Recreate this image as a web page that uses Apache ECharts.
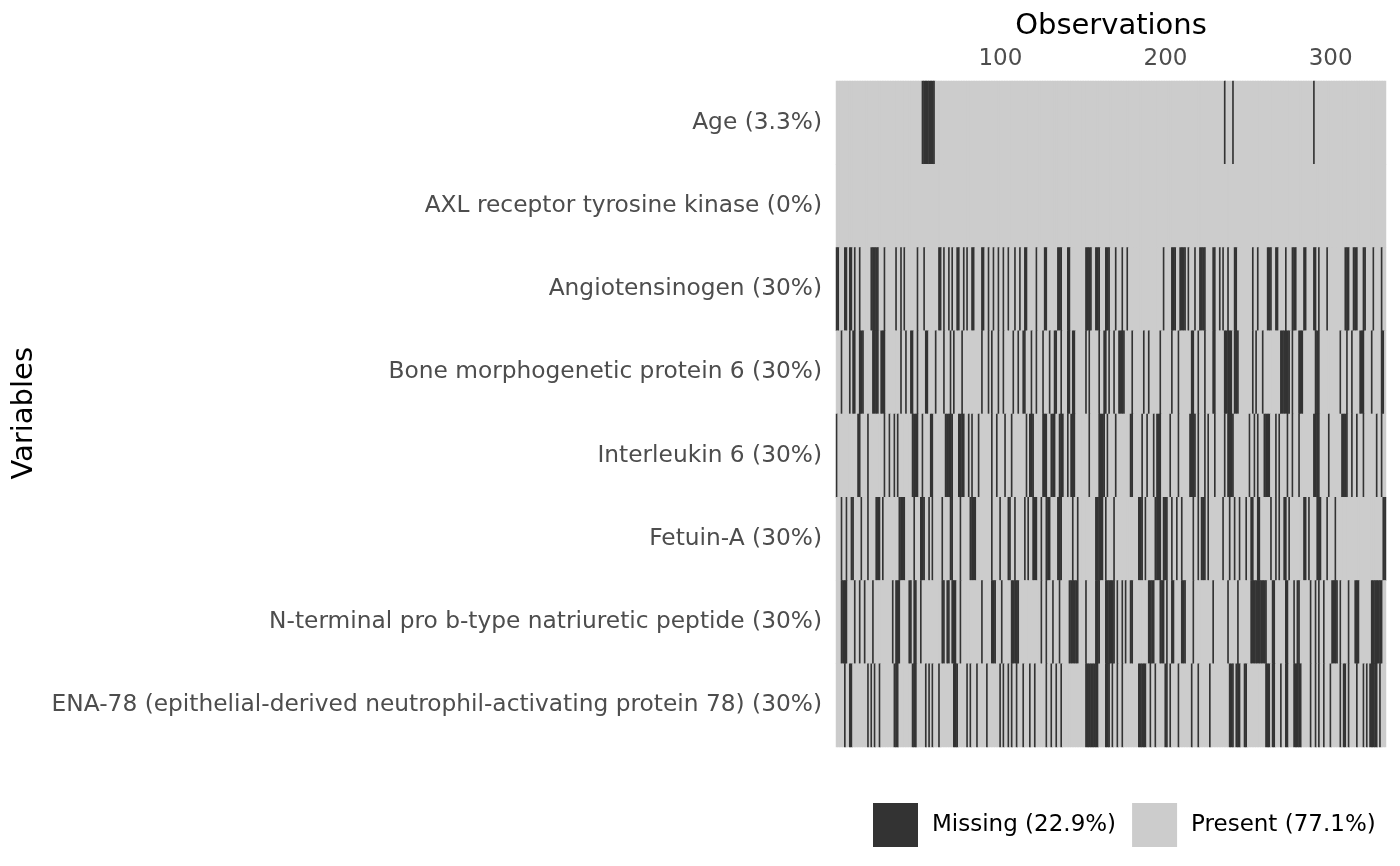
<!DOCTYPE html>
<html>
<head>
<meta charset="utf-8">
<script src="https://cdn.jsdelivr.net/npm/echarts@6/dist/echarts.min.js"></script>
<style>
  html, body { margin: 0; padding: 0; background: #fff; }
  #chart { width: 1400px; height: 866px; }
</style>
</head>
<body>
<div id="chart"></div>
<script>
var nObs = 333;
var variables = [
  'Age (3.3%)',
  'AXL receptor tyrosine kinase (0%)',
  'Angiotensinogen (30%)',
  'Bone morphogenetic protein 6 (30%)',
  'Interleukin 6 (30%)',
  'Fetuin-A (30%)',
  'N-terminal pro b-type natriuretic peptide (30%)',
  'ENA-78 (epithelial-derived neutrophil-activating protein 78) (30%)'
];
var tickObs = [100, 200, 300];

// missing observations per variable, as [first, last] runs (1-based)
var missAge = [[53,60],[236,236],[241,241],[290,290]];
var missAXL = [];
var missAngio = [[1,2],[6,7],[9,10],[12,12],[15,15],[22,26],[30,30],[37,37],[40,40],[42,42],[50,50],[54,54],[63,64],[66,66],[69,69],[71,71],[74,75],[78,78],[80,80],[83,84],[89,90],[93,93],[96,96],[99,99],[102,102],[105,105],[109,109],
  [112,112],[115,116],[122,122],[127,128],[135,137],[141,142],[152,155],[158,160],[164,166],[170,170],[174,174],[177,177],[199,199],[204,206],[209,212],[214,214],[218,218],[221,221],
  [222,224],[229,230],[233,233],[235,235],[238,238],[242,243],[253,253],[256,256],[262,264],[267,268],[273,273],[277,279],[284,285],[290,291],[293,293],[298,298],[309,311],[314,316],[320,321],[326,326],[331,331]];
var missBMP6 = [[4,4],[9,9],[11,12],[15,17],[23,26],[28,30],[40,40],[43,43],[46,47],[50,50],[55,56],[61,61],[66,66],[70,70],[72,72],[77,77],[89,89],[93,93],[95,95],[99,99],[102,102],[108,108],
  [111,111],[114,115],[119,119],[122,122],[126,126],[130,130],[133,134],[137,137],[141,142],[144,145],[152,152],[154,154],[160,160],[163,164],[166,166],[169,169],[172,175],[180,180],[187,187],[190,190],[197,197],[204,204],[208,208],[216,217],[220,220],
  [224,224],[229,230],[236,240],[242,244],[253,253],[255,255],[259,259],[270,275],[277,277],[281,283],[291,293],[306,306],[310,310],[313,313],[318,320],[325,325],[331,332]];
var missIL6 = [[1,1],[14,15],[20,20],[30,30],[33,33],[36,36],[38,38],[47,50],[53,53],[58,59],[67,71],[75,78],[81,81],[83,83],[87,87],[95,95],[98,98],[103,103],[107,107],
  [116,116],[118,120],[126,128],[131,133],[136,138],[141,141],[143,145],[154,154],[160,163],[165,165],[170,170],[179,180],[186,186],[189,189],[193,193],[195,197],[203,203],[208,208],[215,218],[220,220],
  [224,224],[226,226],[230,230],[236,236],[238,241],[251,251],[254,254],[256,256],[260,263],[267,267],[269,269],[274,274],[277,277],[281,281],[290,293],[299,299],[307,310],[313,313],[316,316],[320,320],[328,328],[331,331]];
var missFetuin = [[4,4],[7,7],[10,11],[16,16],[20,20],[25,27],[29,29],[39,42],[48,48],[52,54],[57,57],[59,59],[65,65],[70,71],[76,76],[82,85],[95,95],[100,100],[105,106],[109,109],
  [115,115],[117,117],[120,122],[125,125],[128,130],[135,137],[144,144],[147,147],[158,162],[164,164],[169,169],[184,186],[188,188],[194,197],[199,201],[204,204],[207,207],[210,210],[217,217],[220,220],
  [222,224],[226,226],[235,235],[239,239],[242,242],[245,245],[249,249],[252,253],[256,257],[264,264],[267,267],[269,269],[272,273],[275,275],[284,285],[287,287],[292,294],[298,298],[303,303],[332,333]];
var missNTpro = [[4,7],[12,12],[15,15],[18,18],[23,23],[35,35],[37,39],[45,46],[48,49],[52,52],[65,66],[68,69],[71,73],[76,76],[89,89],[95,97],[101,101],[107,111],
  [125,125],[128,128],[132,132],[136,136],[142,147],[152,152],[158,160],[164,169],[171,171],[174,174],[176,176],[179,180],[190,193],[197,199],[201,201],[204,205],[210,212],[217,217],
  [229,229],[238,238],[244,244],[252,261],[265,266],[273,274],[278,278],[280,281],[288,288],[291,291],[293,293],[296,296],[301,304],[306,306],[311,311],[315,317],[325,331]];
var missENA = [[6,6],[9,10],[20,20],[22,22],[24,24],[27,27],[36,38],[47,49],[55,55],[57,57],[59,59],[63,63],[72,74],[80,80],[82,82],[86,86],[92,92],[100,100],[102,102],[105,105],[107,107],[110,110],
  [114,114],[118,118],[121,121],[128,128],[131,131],[134,134],[137,137],[152,159],[164,166],[168,168],[171,171],[174,174],[184,188],[191,191],[194,194],[200,201],[203,203],[208,208],[216,216],[220,220],
  [227,227],[239,241],[243,245],[248,249],[261,263],[265,266],[270,270],[273,274],[278,282],[288,288],[291,291],[293,293],[296,296],[300,300],[306,306],[308,309],[311,311],[316,316],[320,320],[322,322],[324,328],[330,330]];

var missing = [missAge, missAXL, missAngio, missBMP6, missIL6, missFetuin, missNTpro, missENA];

var obsCats = [];
for (var i = 1; i <= nObs; i++) obsCats.push(String(i));

var data = [];
missing.forEach(function (runs, v) {
  var row = new Array(nObs).fill(0);
  runs.forEach(function (r) {
    for (var k = r[0]; k <= r[1] && k <= nObs; k++) row[k - 1] = 1;
  });
  row.forEach(function (val, o) { data.push([o, v, val]); });
});

var chart = echarts.init(document.getElementById('chart'));
chart.setOption({
  animation: false,
  textStyle: { fontFamily: 'DejaVu Sans' },
  grid: { left: 836, right: 14, top: 81, bottom: 119, show: true, backgroundColor: '#cccccc', borderWidth: 0 },
  xAxis: {
    type: 'category',
    position: 'top',
    data: obsCats,
    name: 'Observations',
    nameLocation: 'middle',
    nameGap: 40,
    nameTextStyle: { fontSize: 29, color: '#000' },
    axisLine: { show: false },
    axisTick: { show: false },
    splitLine: { show: false },
    axisLabel: {
      fontSize: 23, color: '#4d4d4d', margin: 10,
      interval: function (idx) { return tickObs.indexOf(idx + 1) >= 0; }
    }
  },
  yAxis: {
    type: 'category',
    inverse: true,
    data: variables,
    axisLine: { show: false },
    axisTick: { show: false },
    splitLine: { show: false },
    axisLabel: { fontSize: 23.3, color: '#4d4d4d', margin: 14 }
  },
  visualMap: {
    type: 'piecewise',
    dimension: 2,
    orient: 'horizontal',
    inverse: true,
    left: 858,
    top: 788,
    itemWidth: 45,
    itemHeight: 44,
    itemGap: 16,
    itemSymbol: 'rect',
    textGap: 14,
    textStyle: { fontSize: 23, color: '#000' },
    pieces: [
      { value: 1, label: 'Missing (22.9%)', color: '#333333' },
      { value: 0, label: 'Present (77.1%)', color: '#cccccc' }
    ]
  },
  graphic: [{
    type: 'text',
    left: 10,
    top: 347,
    rotation: Math.PI / 2,
    style: { text: 'Variables', fontSize: 29, fill: '#000', fontFamily: 'DejaVu Sans' }
  }],
  series: [{
    type: 'heatmap',
    data: data,
    itemStyle: { borderWidth: 0 },
    emphasis: { disabled: true }
  }]
});
</script>
</body>
</html>
